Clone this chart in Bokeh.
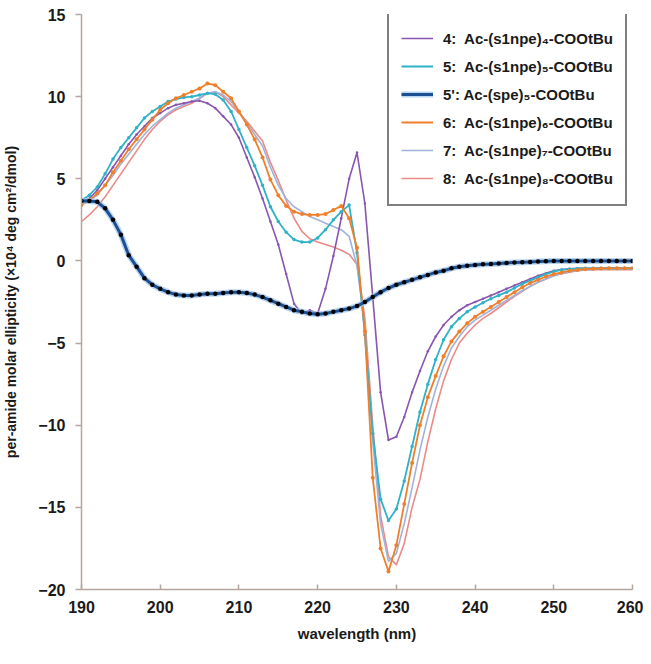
from bokeh.plotting import figure
from bokeh.models import Range1d, Legend, LegendItem, ColumnDataSource, FixedTicker
from bokeh.embed import file_html
from bokeh.resources import INLINE

wavelength = list(range(190, 261))

s4 = [3.6, 3.8, 4.3, 5.0, 5.7, 6.4, 7.1, 7.7, 8.2, 8.7,
      9.0, 9.3, 9.5, 9.6, 9.7, 9.75, 9.6, 9.3, 8.8, 8.3,
      7.5, 6.3, 5.1, 3.8, 2.4, 1.0, -0.8, -2.6, -3.2, -3.0,
      -3.2, -1.7, 0.3, 2.6, 5.0, 6.6, 3.5, -2.2, -8.0, -10.9,
      -10.7, -9.5, -8.0, -6.7, -5.5, -4.6, -3.9, -3.4, -3.0, -2.7,
      -2.5, -2.3, -2.1, -1.9, -1.7, -1.5, -1.3, -1.1, -0.9, -0.75,
      -0.6, -0.52, -0.48, -0.45, -0.45, -0.45, -0.45, -0.45, -0.45, -0.45, -0.45]

s5 = [3.7, 4.0, 4.5, 5.3, 6.2, 6.9, 7.5, 8.1, 8.7, 9.1,
      9.4, 9.7, 9.85, 9.95, 10.0, 10.1, 10.2, 10.15, 9.8, 9.1,
      8.0, 6.9, 5.8, 4.6, 3.3, 2.4, 1.75, 1.3, 1.15, 1.15,
      1.4, 1.9, 2.5, 3.0, 3.4, 0.5, -4.5, -10.5, -14.5, -15.8,
      -15.1, -13.4, -11.3, -9.2, -7.5, -6.0, -4.8, -4.0, -3.5, -3.1,
      -2.8, -2.55, -2.3, -2.1, -1.9, -1.65, -1.4, -1.2, -1.0, -0.8,
      -0.65, -0.55, -0.5, -0.47, -0.45, -0.45, -0.45, -0.45, -0.45, -0.45, -0.45]

s5p = [3.65, 3.65, 3.6, 3.2, 2.5, 1.6, 0.35, -0.35, -1.05, -1.45,
       -1.7, -1.9, -2.05, -2.1, -2.1, -2.05, -2.0, -2.0, -1.95, -1.9,
       -1.9, -1.95, -2.05, -2.2, -2.4, -2.6, -2.8, -3.0, -3.1, -3.2,
       -3.25, -3.2, -3.1, -3.0, -2.9, -2.75, -2.5, -2.2, -1.9, -1.65,
       -1.45, -1.3, -1.15, -1.0, -0.85, -0.7, -0.6, -0.45, -0.35, -0.3,
       -0.25, -0.2, -0.18, -0.15, -0.12, -0.1, -0.08, -0.06, -0.04, -0.02,
       0.0, 0.0, 0.0, 0.0, 0.0, 0.0, 0.0, 0.0, 0.0, 0.0, 0.0]

s6 = [3.4, 3.7, 4.1, 4.6, 5.4, 6.1, 6.8, 7.4, 8.0, 8.6,
      9.2, 9.6, 9.9, 10.1, 10.3, 10.5, 10.8, 10.7, 10.3, 9.9,
      9.1, 8.3, 7.4, 6.3, 4.95, 4.0, 3.35, 3.0, 2.85, 2.8,
      2.8, 2.85, 3.1, 3.35, 2.6, 0.8, -4.3, -13.2, -17.5, -18.9,
      -17.3, -14.8, -12.3, -10.0, -8.3, -7.0, -5.8, -4.9, -4.3, -3.8,
      -3.4, -3.1, -2.8, -2.5, -2.2, -1.9, -1.6, -1.35, -1.15, -0.95,
      -0.8, -0.7, -0.6, -0.55, -0.5, -0.48, -0.46, -0.45, -0.45, -0.45, -0.45]

s7 = [3.5, 3.7, 4.0, 4.6, 5.2, 5.9, 6.5, 7.1, 7.7, 8.2,
      8.6, 9.0, 9.3, 9.5, 9.7, 9.9, 10.2, 10.3, 10.1, 9.7,
      9.1, 8.4, 7.7, 7.0, 5.7, 4.6, 3.8, 3.3, 3.0, 2.7,
      2.5, 2.3, 2.1, 1.9, 1.5, -0.3, -4.0, -11.0, -16.0, -18.3,
      -17.8, -16.0, -13.8, -11.5, -9.5, -7.8, -6.4, -5.3, -4.6, -4.0,
      -3.6, -3.3, -3.0, -2.7, -2.4, -2.1, -1.8, -1.55, -1.3, -1.1,
      -0.9, -0.75, -0.65, -0.6, -0.55, -0.52, -0.5, -0.5, -0.5, -0.5, -0.5]

s8 = [2.4, 2.8, 3.3, 3.9, 4.6, 5.3, 6.0, 6.7, 7.4, 8.0,
      8.5, 8.9, 9.2, 9.4, 9.6, 9.9, 10.2, 10.3, 10.0, 9.5,
      9.0, 8.5, 7.9, 7.3, 6.0, 4.9, 3.7, 2.6, 1.8, 1.35,
      1.15, 1.0, 0.85, 0.65, 0.4, -0.2, -3.5, -10.0, -15.5, -18.0,
      -18.5, -17.2, -15.0, -13.3, -11.0, -9.0, -7.3, -6.0, -5.0, -4.4,
      -3.9, -3.5, -3.2, -2.85, -2.5, -2.15, -1.85, -1.55, -1.3, -1.1,
      -0.9, -0.78, -0.68, -0.6, -0.55, -0.53, -0.53, -0.53, -0.53, -0.53, -0.53]

labels = {
    "s4": "4:  Ac-(s1npe)\u2084-COOtBu",
    "s5": "5:  Ac-(s1npe)\u2085-COOtBu",
    "s5p": "5': Ac-(spe)\u2085-COOtBu",
    "s6": "6:  Ac-(s1npe)\u2086-COOtBu",
    "s7": "7:  Ac-(s1npe)\u2087-COOtBu",
    "s8": "8:  Ac-(s1npe)\u2088-COOtBu",
}

src = ColumnDataSource(dict(x=wavelength, s4=s4, s5=s5, s5p=s5p, s6=s6, s7=s7, s8=s8))

FONT = "Liberation Sans"
AXIS_COLOR = "#b3a69e"

p = figure(width=643, height=652, x_range=Range1d(190, 260), y_range=Range1d(-20, 15),
           output_backend="svg", toolbar_location=None,
           min_border_left=74, min_border_right=11, min_border_top=14, min_border_bottom=63)
p.xgrid.visible = False
p.ygrid.visible = False
p.outline_line_color = None
p.background_fill_color = "white"

p.xaxis.ticker = FixedTicker(ticks=list(range(190, 261, 10)))
p.yaxis.ticker = FixedTicker(ticks=list(range(-20, 16, 5)))
for ax in (p.xaxis[0], p.yaxis[0]):
    ax.axis_line_color = AXIS_COLOR
    ax.axis_line_width = 1.5
    ax.major_tick_line_color = AXIS_COLOR
    ax.major_tick_line_width = 1.5
    ax.minor_tick_line_color = None
    ax.major_label_text_font = FONT
    ax.major_label_text_font_style = "bold"
    ax.major_label_text_font_size = "16px"
    ax.major_label_text_color = "#1a1a1a"
    ax.axis_label_text_font = FONT
    ax.axis_label_text_font_style = "bold"
    ax.axis_label_text_color = "#1a1a1a"

p.xaxis.major_tick_in = 5
p.xaxis.major_tick_out = 0
p.xaxis.major_label_standoff = 11
p.xaxis.axis_label = "wavelength (nm)"
p.xaxis.axis_label_text_font_size = "15px"
p.xaxis.axis_label_standoff = 9

p.yaxis.major_tick_in = 0
p.yaxis.major_tick_out = 6
p.yaxis.major_label_standoff = 10
p.yaxis.axis_label = "per-amide molar ellipticity (\u00d710\u2074 deg cm\u00b2/dmol)"
p.yaxis.axis_label_text_font_size = "14px"
p.yaxis.axis_label_standoff = 16

styles = {
    "s4": dict(color="#8a55b0", width=1.6, msize=2.5),
    "s5": dict(color="#2fb2c8", width=1.8, msize=3.5),
    "s6": dict(color="#f07f2a", width=1.8, msize=4),
    "s7": dict(color="#9fb2dd", width=1.6, msize=0),
    "s8": dict(color="#ec8a86", width=1.6, msize=0),
}

items = {}
for key in ["s8", "s7", "s4", "s5", "s6"]:
    st = styles[key]
    ln = p.line("x", key, source=src, line_color=st["color"], line_width=st["width"])
    if st["msize"] > 0:
        p.scatter("x", key, source=src, marker="circle", size=st["msize"],
                  fill_color=st["color"], line_color=None)
    items[key] = [ln]

halo = p.line("x", "s5p", source=src, line_color="#9cc3e8", line_width=6, line_alpha=0.7)
core = p.line("x", "s5p", source=src, line_color="#1d4f93", line_width=3)
p.scatter("x", "s5p", source=src, marker="circle", size=4.5, fill_color="black", line_color=None)
items["s5p"] = [halo, core]

legend = Legend(items=[LegendItem(label=labels[k], renderers=items[k])
                       for k in ["s4", "s5", "s5p", "s6", "s7", "s8"]],
                location=(306, 383))
legend.label_text_font = FONT
legend.label_text_font_style = "bold"
legend.label_text_font_size = "15px"
legend.label_text_color = "#1a1a1a"
legend.glyph_width = 32
legend.glyph_height = 28
legend.label_height = 28
legend.label_standoff = 10
legend.padding = 12
legend.spacing = 0
legend.margin = 0
legend.border_line_color = "black"
legend.border_line_width = 2
legend.background_fill_color = "white"
legend.background_fill_alpha = 1
p.add_layout(legend)

open("out.html", "w").write(file_html(p, INLINE))
